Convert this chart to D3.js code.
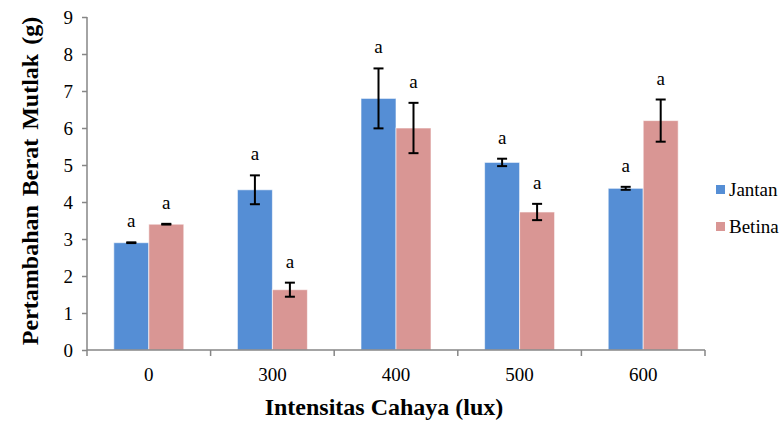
<!DOCTYPE html>
<html>
<head>
<meta charset="utf-8">
<script src="https://cdn.jsdelivr.net/npm/d3@7"></script>
<style>
	body { margin: 0; background: #fff; }
</style>
</head>
<body>
<svg id="chart" width="784" height="421"></svg>
<script>
const categories = ['0', '300', '400', '500', '600'];
const series = ['Jantan', 'Betina'];
const jantan = [2.9, 4.33, 6.8, 5.07, 4.37];
const betina = [3.4, 1.63, 6.0, 3.73, 6.2];
const jantanErr = [0.01, 0.39, 0.81, 0.1, 0.04];
const betinaErr = [0.01, 0.19, 0.68, 0.22, 0.57];
const letters = [['a', 'a'], ['a', 'a'], ['a', 'a'], ['a', 'a'], ['a', 'a']];
const yTicks = [0, 1, 2, 3, 4, 5, 6, 7, 8, 9];

const colors = { Jantan: '#558ED5', Betina: '#D99694' };
const axisColor = '#868686';
const serif = '"Liberation Serif"';

const margin = { left: 87, right: 79, top: 17, bottom: 71 };
const width = 784, height = 421;

const svg = d3.select('#chart');

const x = d3.scaleBand()
	.domain(categories)
	.range([margin.left, width - margin.right]);

const xSub = d3.scaleBand()
	.domain(series)
	.range([0, x.bandwidth()])
	.paddingInner(0)
	.paddingOuter(0.766);

const y = d3.scaleLinear()
	.domain([0, 9])
	.range([height - margin.bottom, margin.top]);

const rows = categories.map((c, i) => ({
	cat: c,
	items: [
		{ key: 'Jantan', value: jantan[i], err: jantanErr[i], letter: letters[i][0] },
		{ key: 'Betina', value: betina[i], err: betinaErr[i], letter: letters[i][1] }
	]
}));

// bars
const groups = svg.append('g')
	.selectAll('g')
	.data(rows)
	.join('g')
	.attr('transform', d => `translate(${x(d.cat)},0)`);

groups.selectAll('rect')
	.data(d => d.items)
	.join('rect')
	.attr('x', d => xSub(d.key))
	.attr('y', d => y(d.value))
	.attr('width', xSub.bandwidth())
	.attr('height', d => y(0) - y(d.value))
	.attr('fill', d => colors[d.key])
	.attr('stroke', 'rgba(255,255,255,0.6)')
	.attr('stroke-width', 1);

// error bars
const cap = 5;
const cx = d => xSub(d.key) + xSub.bandwidth() / 2;
const eb = groups.selectAll('g.err')
	.data(d => d.items)
	.join('g')
	.attr('class', 'err')
	.attr('stroke', '#000')
	.attr('stroke-width', 2);

eb.append('line')
	.attr('x1', cx)
	.attr('x2', cx)
	.attr('y1', d => y(d.value + d.err))
	.attr('y2', d => y(d.value - d.err));

eb.append('line')
	.attr('x1', d => cx(d) - cap)
	.attr('x2', d => cx(d) + cap)
	.attr('y1', d => y(d.value + d.err))
	.attr('y2', d => y(d.value + d.err));

eb.append('line')
	.attr('x1', d => cx(d) - cap)
	.attr('x2', d => cx(d) + cap)
	.attr('y1', d => y(d.value - d.err))
	.attr('y2', d => y(d.value - d.err));

// letters
groups.selectAll('text.letter')
	.data(d => d.items)
	.join('text')
	.attr('class', 'letter')
	.attr('x', cx)
	.attr('y', d => y(d.value + d.err) - 15)
	.attr('text-anchor', 'middle')
	.style('font-family', serif)
	.style('font-size', '19px')
	.text(d => d.letter);

// y axis
const yAxis = svg.append('g')
	.attr('transform', `translate(${margin.left},0)`)
	.call(d3.axisLeft(y).tickValues(yTicks).tickSize(5).tickPadding(9));

// x axis
const xAxis = svg.append('g')
	.attr('transform', `translate(0,${y(0)})`)
	.call(d3.axisBottom(x).tickSize(0).tickPadding(18));

xAxis.selectAll('.tick-sep')
	.data(d3.range(categories.length + 1))
	.join('line')
	.attr('class', 'tick-sep')
	.attr('x1', i => margin.left + i * x.step())
	.attr('x2', i => margin.left + i * x.step())
	.attr('y1', 0)
	.attr('y2', 6);

[yAxis, xAxis].forEach(a => {
	a.selectAll('path, line').attr('stroke', axisColor).attr('stroke-width', 1.5);
	a.selectAll('text')
		.style('font-family', serif)
		.style('font-size', '19px')
		.attr('fill', '#000');
});
yAxis.select('path').attr('d', `M0,${y(9)}V${y(0)}`);
xAxis.select('path').attr('d', `M${margin.left},0H${width - margin.right}`);

// axis titles
svg.append('text')
	.attr('transform', `translate(38,181) rotate(-90)`)
	.attr('text-anchor', 'middle')
	.style('font-family', serif)
	.style('font-size', '24px')
	.style('font-weight', 'bold')
	.style('word-spacing', '3px')
	.text('Pertambahan Berat Mutlak (g)');

svg.append('text')
	.attr('x', 384)
	.attr('y', 415)
	.attr('text-anchor', 'middle')
	.style('font-family', serif)
	.style('font-size', '24px')
	.style('font-weight', 'bold')
	.text('Intensitas Cahaya (lux)');

// legend
const legend = svg.append('g')
	.selectAll('g')
	.data(series)
	.join('g')
	.attr('transform', (d, i) => `translate(716,${185 + i * 37})`);

legend.append('rect')
	.attr('width', 9)
	.attr('height', 9)
	.attr('fill', d => colors[d]);

legend.append('text')
	.attr('x', 13)
	.attr('y', 11)
	.style('font-family', serif)
	.style('font-size', '19px')
	.text(d => d);
</script>
</body>
</html>
